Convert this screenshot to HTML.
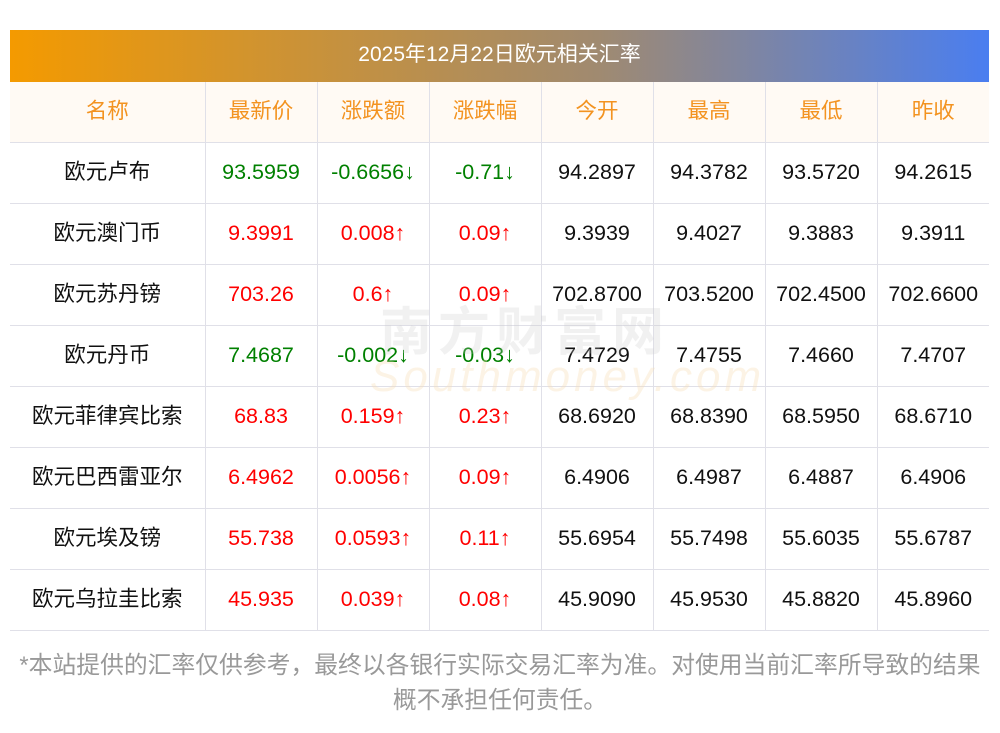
<!DOCTYPE html><html><head><meta charset="utf-8"><style>
body{margin:0;width:1000px;height:733px;background:#fff;position:relative;overflow:hidden;font-family:"Liberation Sans","Noto Sans CJK SC",sans-serif}
.bar{position:absolute;left:10px;top:30px;width:979px;height:52px;background:linear-gradient(90deg,#f49a00,#a08a70 60%,#4a7ef0);color:#fff;font-size:21px;line-height:50px;text-align:center}
table{position:absolute;left:10px;top:82px;width:979px;border-collapse:collapse;table-layout:fixed}
td{height:60px;line-height:60px;border:1px solid #e0e0e8;text-align:center;font-size:21.5px;color:#111;padding:0;white-space:nowrap;overflow:hidden}
td div{height:60px;line-height:59px}
tr td:first-child{border-left:none}tr td:last-child{border-right:none}
tr:first-child td{border-top:none;background:#fffaf4;color:#f39320}
.g{color:#008000}.r{color:#ff0000}
.f{position:absolute;left:0;width:1000px;text-align:center;color:#999;font-size:23.8px;line-height:30px;white-space:nowrap}
.wm{position:absolute;left:380px;top:290px;font-size:52px;color:rgba(200,200,200,.25);font-weight:bold;letter-spacing:6px}
.wm2{position:absolute;left:370px;top:352px;font-size:44px;color:rgba(245,220,180,.35);font-style:italic;letter-spacing:4px}
</style></head><body>
<div class="bar">2025年12月22日欧元相关汇率</div>
<table>
<colgroup><col style="width:195px"><col style="width:112px"><col style="width:112px"><col style="width:112px"><col style="width:112px"><col style="width:112px"><col style="width:112px"><col style="width:112px"></colgroup>
<tr><td><div>名称</div></td><td><div>最新价</div></td><td><div>涨跌额</div></td><td><div>涨跌幅</div></td><td><div>今开</div></td><td><div>最高</div></td><td><div>最低</div></td><td><div>昨收</div></td></tr>
<tr><td><div>欧元卢布</div></td><td class="g"><div>93.5959</div></td><td class="g"><div>-0.6656↓</div></td><td class="g"><div>-0.71↓</div></td><td><div>94.2897</div></td><td><div>94.3782</div></td><td><div>93.5720</div></td><td><div>94.2615</div></td></tr>
<tr><td><div>欧元澳门币</div></td><td class="r"><div>9.3991</div></td><td class="r"><div>0.008↑</div></td><td class="r"><div>0.09↑</div></td><td><div>9.3939</div></td><td><div>9.4027</div></td><td><div>9.3883</div></td><td><div>9.3911</div></td></tr>
<tr><td><div>欧元苏丹镑</div></td><td class="r"><div>703.26</div></td><td class="r"><div>0.6↑</div></td><td class="r"><div>0.09↑</div></td><td><div>702.8700</div></td><td><div>703.5200</div></td><td><div>702.4500</div></td><td><div>702.6600</div></td></tr>
<tr><td><div>欧元丹币</div></td><td class="g"><div>7.4687</div></td><td class="g"><div>-0.002↓</div></td><td class="g"><div>-0.03↓</div></td><td><div>7.4729</div></td><td><div>7.4755</div></td><td><div>7.4660</div></td><td><div>7.4707</div></td></tr>
<tr><td><div>欧元菲律宾比索</div></td><td class="r"><div>68.83</div></td><td class="r"><div>0.159↑</div></td><td class="r"><div>0.23↑</div></td><td><div>68.6920</div></td><td><div>68.8390</div></td><td><div>68.5950</div></td><td><div>68.6710</div></td></tr>
<tr><td><div>欧元巴西雷亚尔</div></td><td class="r"><div>6.4962</div></td><td class="r"><div>0.0056↑</div></td><td class="r"><div>0.09↑</div></td><td><div>6.4906</div></td><td><div>6.4987</div></td><td><div>6.4887</div></td><td><div>6.4906</div></td></tr>
<tr><td><div>欧元埃及镑</div></td><td class="r"><div>55.738</div></td><td class="r"><div>0.0593↑</div></td><td class="r"><div>0.11↑</div></td><td><div>55.6954</div></td><td><div>55.7498</div></td><td><div>55.6035</div></td><td><div>55.6787</div></td></tr>
<tr><td><div>欧元乌拉圭比索</div></td><td class="r"><div>45.935</div></td><td class="r"><div>0.039↑</div></td><td class="r"><div>0.08↑</div></td><td><div>45.9090</div></td><td><div>45.9530</div></td><td><div>45.8820</div></td><td><div>45.8960</div></td></tr>
</table>
<div class="wm">南方财富网</div>
<div class="wm2">Southmoney.com</div>
<div class="f" style="top:651px">*本站提供的汇率仅供参考，最终以各银行实际交易汇率为准。对使用当前汇率所导致的结果</div>
<div class="f" style="top:686px">概不承担任何责任。</div>
</body></html>
